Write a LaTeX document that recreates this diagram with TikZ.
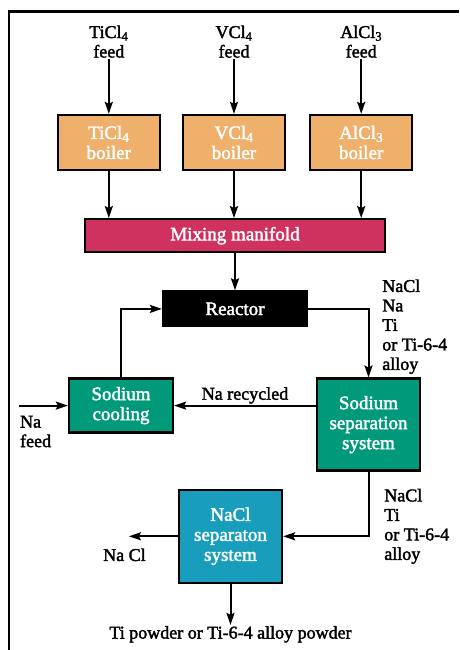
\documentclass[tikz,border=0pt]{standalone}
\usepackage{fontspec}
\setmainfont{Liberation Serif}[BoldFont=Liberation Serif, BoldFeatures={FakeBold=2}]
\usetikzlibrary{arrows.meta,positioning}

\definecolor{boilerorange}{RGB}{238,176,106}
\definecolor{mixred}{RGB}{208,50,96}
\definecolor{sodgreen}{RGB}{0,154,122}
\definecolor{naclblue}{RGB}{24,158,188}

\begin{document}
\begin{tikzpicture}[
    x=1pt, y=1pt,
    node distance=20pt and 24pt,
    unit/.style={rectangle, draw=black, line width=2.2pt, text=white, align=center, inner sep=1pt, font=\bfseries\fontsize{19}{20}\selectfont},
    boiler/.style={unit, fill=boilerorange, minimum width=102pt, minimum height=55pt},
    lbl/.style={inner sep=1pt, font=\bfseries\fontsize{18}{19.5}\selectfont},
    arr/.style={-{Stealth[length=12pt,width=8pt,inset=2pt]}, line width=2pt},
]
\useasboundingbox (0,0) rectangle (459,650);
% frame
\draw[line width=2.6pt] (9,0) -- (9,638.5) -- (459,638.5);

% Boilers
\node[boiler] at (234,507.5) (vboil) {VCl\textsubscript{4}\\boiler};
\node[boiler, left=21pt of vboil] (tiboil) {TiCl\textsubscript{4}\\boiler};
\node[boiler, right=23pt of vboil] (alboil) {AlCl\textsubscript{3}\\boiler};
% Feeds
\node[lbl, align=center, above=55pt of tiboil] (tifeed) {TiCl\textsubscript{4}\\feed};
\node[lbl, align=center, above=55pt of vboil] (vfeed) {VCl\textsubscript{4}\\feed};
\node[lbl, align=center, above=55pt of alboil] (alfeed) {AlCl\textsubscript{3}\\feed};
% Mixing manifold
\node[unit, fill=mixred, minimum width=300pt, minimum height=33pt, below=47pt of vboil, xshift=1pt] (mix) {Mixing manifold};
% Reactor
\node[unit, fill=black, minimum width=144pt, minimum height=35pt, below=37pt of mix] (reactor) {Reactor};
% Sodium loop
\node[unit, fill=sodgreen, minimum width=103pt, minimum height=92pt, below=50pt of reactor, xshift=133.5pt] (sodsep) {Sodium\\separation\\system};
\node[unit, fill=sodgreen, minimum width=104pt, minimum height=54pt, below=50pt of reactor, xshift=-114pt] (cool) {Sodium\\cooling};
% NaCl separation
\node[unit, fill=naclblue, minimum width=103pt, minimum height=93pt, below=17pt of sodsep, xshift=-138pt] (nacl) {NaCl\\separaton\\system};

% Stream labels
\node[lbl, align=left, anchor=north west] at ([xshift=73pt,yshift=12pt]reactor.north east) (rxout) {NaCl\\Na\\Ti\\or Ti-6-4\\alloy};
\node[lbl, align=left, anchor=north west] at ([xshift=-38pt,yshift=-16pt]sodsep.south east) (sepout) {NaCl\\Ti\\or Ti-6-4\\alloy};
\coordinate[left=49pt of cool.west] (nain);
\node[lbl, align=left, anchor=north west] at ([yshift=-9pt]nain) (nafeed) {Na\\feed};
\coordinate[left=49pt of nacl.west] (naclout);
\node[lbl, below left=11pt and -18pt of naclout] (nacllbl) {Na Cl};
\node[lbl, below=41pt of nacl] (powder) {Ti powder or Ti-6-4 alloy powder};

% Arrows
\draw[arr] (tifeed) -- (tiboil);
\draw[arr] (vfeed) -- (vboil);
\draw[arr] (alfeed) -- (alboil);
\draw[arr] (tiboil) -- (tiboil |- mix.north);
\draw[arr] (vboil) -- (vboil |- mix.north);
\draw[arr] (alboil) -- (alboil |- mix.north);
\draw[arr] (mix) -- (reactor);
\draw[arr] (reactor.east) -| (sodsep.north);
\draw[arr] (sodsep.west |- cool.east) -- node[lbl, above] {Na recycled} (cool.east);
\draw[arr] (cool.north) |- (reactor.west);
\draw[arr] (nain) -- (cool.west);
\draw[arr] (sodsep.south) |- (nacl.east);
\draw[arr] (nacl.west) -- (naclout);
\draw[arr] (nacl) -- (powder);
\end{tikzpicture}
\end{document}
